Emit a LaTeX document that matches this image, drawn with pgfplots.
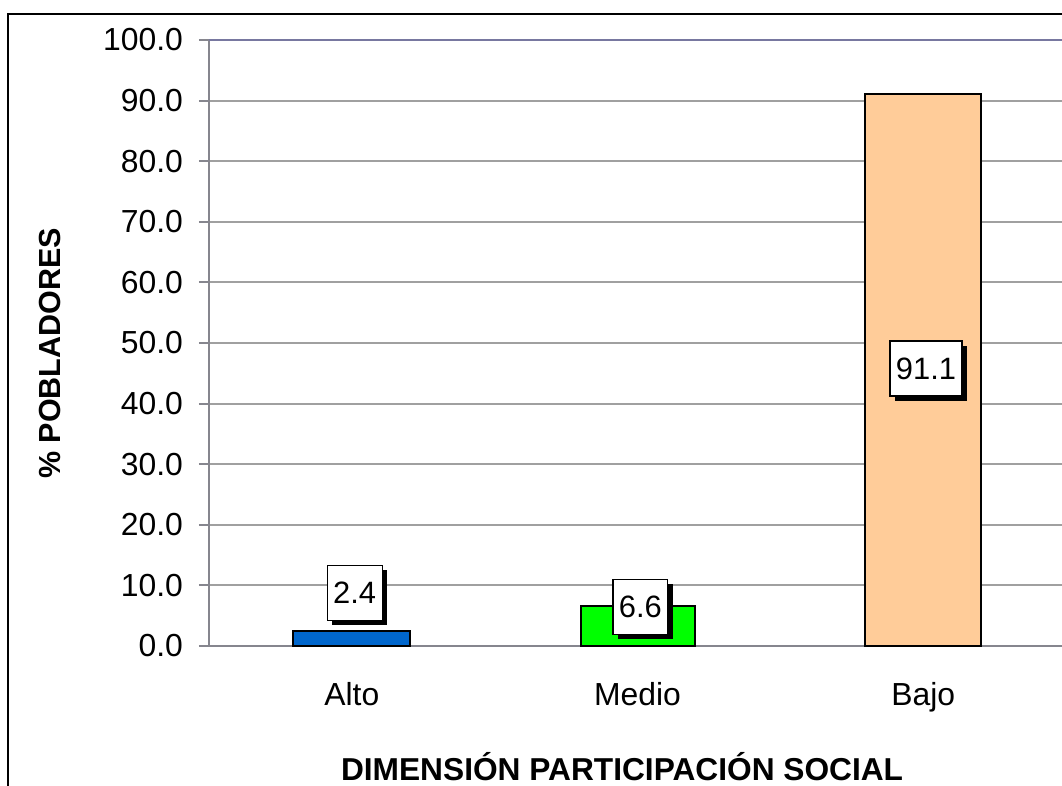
\documentclass[border=0pt]{standalone}
\usepackage{pgfplots}
\pgfplotsset{compat=1.18}
\usepackage{fontspec}
\setmainfont{Liberation Sans}
\usetikzlibrary{shadows}
\definecolor{gridgray}{RGB}{160,160,160}
\definecolor{axisgray}{RGB}{134,134,142}
\definecolor{topline}{RGB}{120,120,160}
\definecolor{altoblue}{RGB}{0,102,204}
\definecolor{mediogreen}{RGB}{0,255,0}
\definecolor{bajopeach}{RGB}{255,204,153}
\begin{document}
\begin{tikzpicture}[x=1bp,y=1bp]
\clip (-104.5,-69.5) rectangle (426.5,323);
\draw[black,line width=1bp] (-100.5,-80) -- (-100.5,316) -- (440,316);
\begin{axis}[
  at={(0,0)}, anchor=south west,
  scale only axis,
  width=428.5bp, height=303bp,
  xmin=-0.5, xmax=2.5, ymin=0, ymax=100,
  axis lines*=left,
  axis line style={axisgray, line width=1bp},
  ytick={0,10,...,100},
  ymajorgrids, grid style={gridgray, line width=1bp},
  yticklabel style={/pgf/number format/fixed, /pgf/number format/fixed zerofill, /pgf/number format/precision=1, /pgf/number format/assume math mode=true, font=\fontsize{16}{19}\selectfont, xshift=-4.5bp},
  xtick={0,1,2}, xticklabels={Alto,Medio,Bajo},
  xticklabel style={font=\fontsize{16}{19}\selectfont, yshift=-9.5bp},
  major x tick style={draw=none},
  extra x ticks={-0.5,0.5,1.5,2.5}, extra x tick labels={},
  extra x tick style={major tick style={axisgray, line width=1bp, draw=axisgray}, major tick length=5bp, tick align=outside},
  major tick length=5bp, tick align=outside,
  tick style={axisgray, line width=1bp},
  xlabel={\textbf{DIMENSIÓN PARTICIPACIÓN SOCIAL}},
  xlabel style={font=\fontsize{15.9}{19}\selectfont, inner sep=0pt, at={(axis description cs:0.482,-0.199)}, anchor=center},
  ylabel={\textbf{\% POBLADORES}},
  ylabel style={font=\fontsize{15.3}{18}\selectfont, at={(axis description cs:-0.186,0.483)}, anchor=center},
  clip=false,
]
\addplot[ybar, bar width=58.5bp, fill=altoblue, draw=black, line width=1bp] coordinates {(0,2.4)};
\addplot[ybar, bar width=57bp, fill=mediogreen, draw=black, line width=1bp] coordinates {(1,6.6)};
\addplot[ybar, bar width=58bp, fill=bajopeach, draw=black, line width=1bp] coordinates {(2,91.1)};
\addplot[draw=none, mark=none, nodes near coords, point meta=explicit symbolic,
  every node near coord/.style={anchor=center, fill=white, draw=black, line width=0.6bp,
    inner xsep=3bp, inner ysep=8bp, minimum height=27.5bp, font=\fontsize{15.5}{18}\selectfont,
    drop shadow={shadow xshift=2.5bp, shadow yshift=-2.5bp, opacity=1, fill=black}}]
  coordinates {(0.01,8.8)[2.4] (1.01,6.5)[6.6] (2.01,45.8)[91.1]};
\draw[topline, line width=1bp] (rel axis cs:0,1) -- (rel axis cs:1,1);
\end{axis}
\end{tikzpicture}
\end{document}
